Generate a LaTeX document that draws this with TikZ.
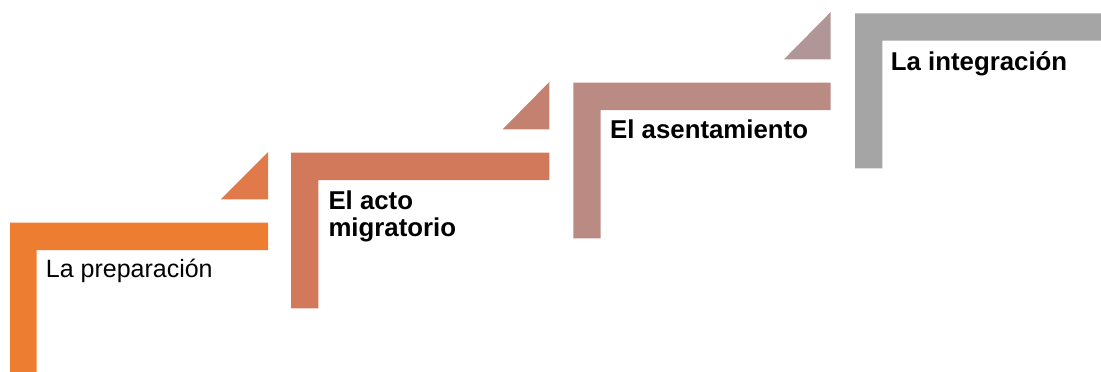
\documentclass[tikz,border=0pt]{standalone}
\usepackage{fontspec}
\setmainfont{Liberation Sans}
\usetikzlibrary{positioning}
\definecolor{stepone}{RGB}{237, 125, 49}
\definecolor{steptwo}{RGB}{210, 121, 92}
\definecolor{stepthree}{RGB}{186, 139, 130}
\definecolor{stepfour}{RGB}{165, 165, 165}
\definecolor{triaone}{RGB}{224, 122, 74}
\definecolor{triatwo}{RGB}{196, 129, 112}
\definecolor{triathree}{RGB}{176, 150, 150}

\begin{document}
\begin{tikzpicture}[x=1pt, y=-1pt,
  label/.style={anchor=base west, inner sep=0pt, align=left, font=\fontsize{25}{27}\selectfont},
  boldlabel/.style={label, font=\fontsize{25.8}{27}\selectfont\bfseries}]
  \useasboundingbox (0,0) rectangle (1101,372);

  % step 1: preparation
  \fill[stepone] (10,222.7) -- (268,222.7) -- (268,250) -- (36.7,250) -- (36.7,372) -- (10,372) -- cycle;
  \fill[triaone] (220.7,199.3) -- (268,152) -- (268,199.3) -- cycle;
  \node[label] (prep) at (45.7,277.7) {La preparación};

  % step 2: migration
  \fill[steptwo] (291,152.7) -- (549.3,152.7) -- (549.3,180) -- (318.3,180) -- (318.3,308.3) -- (291,308.3) -- cycle;
  \fill[triatwo] (502.7,129.3) -- (549.3,82) -- (549.3,129.3) -- cycle;
  \node[boldlabel] (acto) at (328.3,236) {El acto\\migratorio};

  % step 3: settlement
  \fill[stepthree] (573.3,82.7) -- (830.7,82.7) -- (830.7,110) -- (600.7,110) -- (600.7,238.3) -- (573.3,238.3) -- cycle;
  \fill[triathree] (784,59.3) -- (830.7,12) -- (830.7,59.3) -- cycle;
  \node[boldlabel] (asent) at (610,138.3) {El asentamiento};

  % step 4: integration
  \fill[stepfour] (855,13.3) -- (1101,13.3) -- (1101,40.7) -- (882.3,40.7) -- (882.3,168.3) -- (855,168.3) -- cycle;
  \node[boldlabel] (integ) at (890.7,70.7) {La integración};
\end{tikzpicture}
\end{document}
